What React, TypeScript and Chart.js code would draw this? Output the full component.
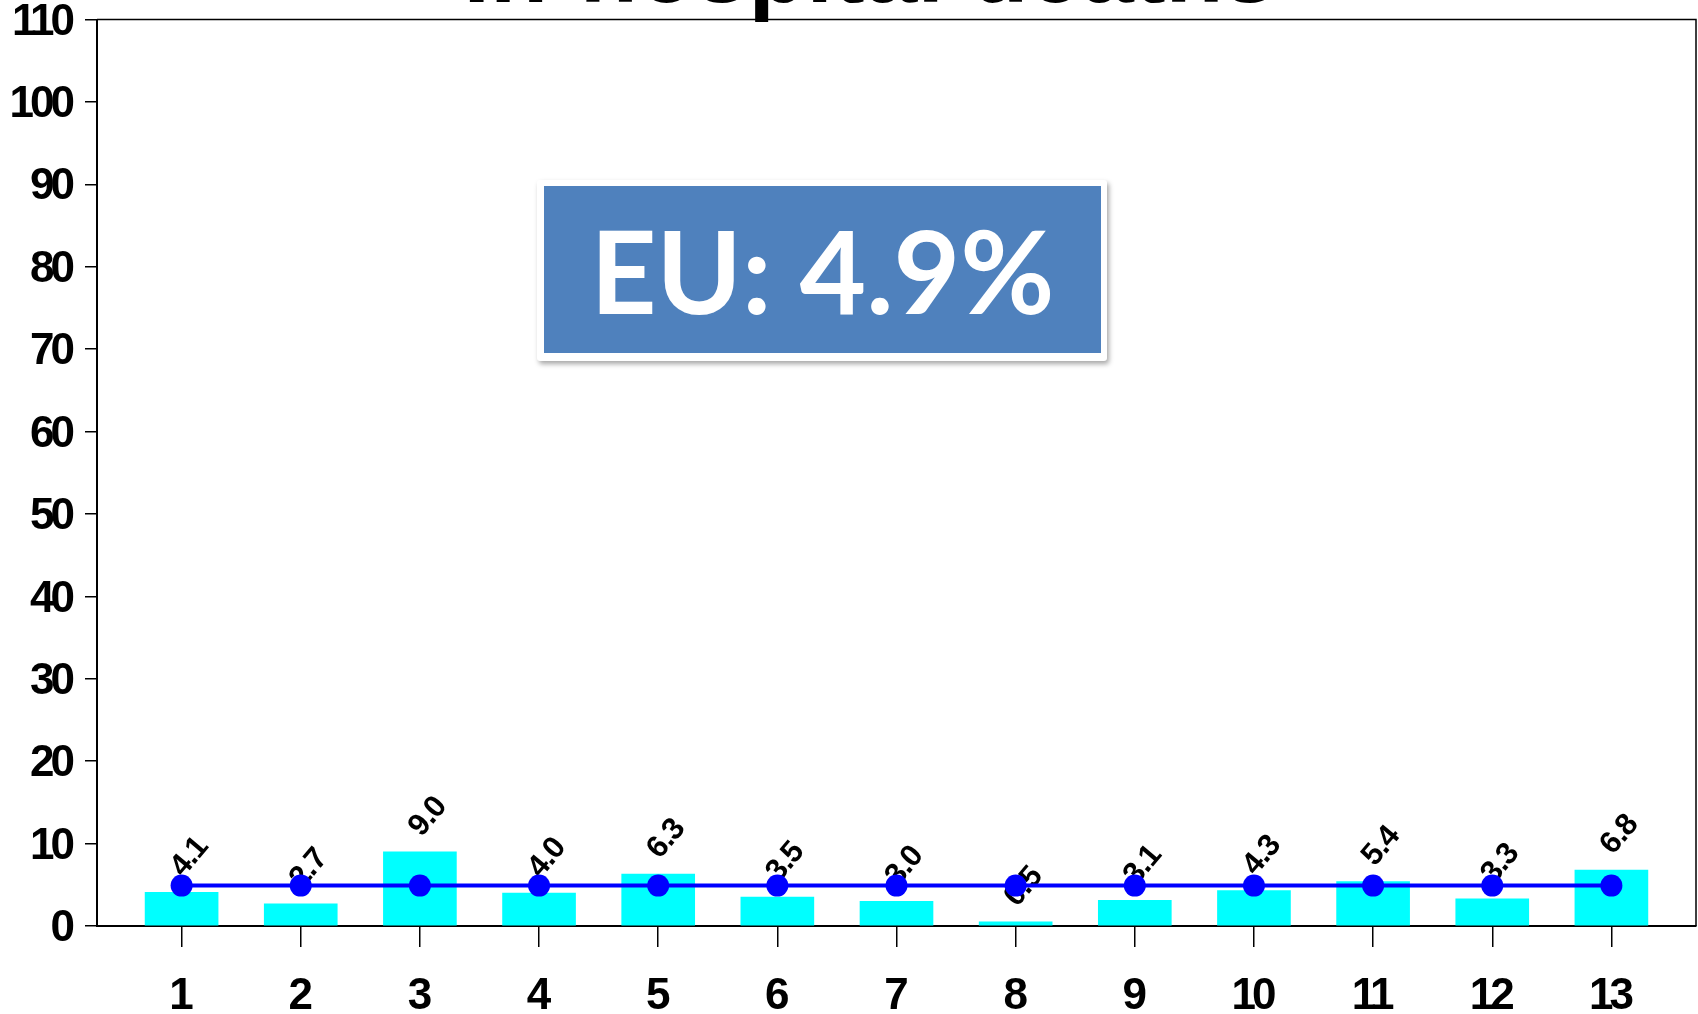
import React, { useEffect, useRef } from "react";
import { Chart, registerables } from "chart.js";

Chart.register(...registerables);

// Page heading (sits above the plot, mostly outside the canvas)
const TITLE = "In-hospital deaths";

// Hospital numbers on the x axis
const CATEGORIES = [1, 2, 3, 4, 5, 6, 7, 8, 9, 10, 11, 12, 13];

// In-hospital death rate per hospital (%)
const DEATH_RATES = [4.1, 2.7, 9.0, 4.0, 6.3, 3.5, 3.0, 0.5, 3.1, 4.3, 5.4, 3.3, 6.8];

// EU reference rate (%), repeated at each hospital
const EU_AVERAGE = [4.9, 4.9, 4.9, 4.9, 4.9, 4.9, 4.9, 4.9, 4.9, 4.9, 4.9, 4.9, 4.9];

const EU_LABEL = "EU: 4.9%";

// Y axis range
const Y_MIN = 0;
const Y_MAX = 110;
const Y_STEP = 10;

const WIDTH = 1698;
const HEIGHT = 1014;

const AXIS_FONT = "'Liberation Sans', Arial, Helvetica, sans-serif";

// Tight digit spacing for the axis numbers
const tightText = {
  id: "tightText",
  beforeUpdate(chart: any) {
    chart.ctx.letterSpacing = "-4px";
  },
  beforeDraw(chart: any) {
    chart.ctx.letterSpacing = "-4px";
  },
};

// Rotated value labels above each bar, drawn before the EU line so it sits on top
const barValueLabels = {
  id: "barValueLabels",
  afterDatasetDraw(chart: any, args: any) {
    const meta = args.meta;
    if (meta.type !== "bar") return;
    const ctx = chart.ctx;
    ctx.save();
    ctx.letterSpacing = "-1px";
    ctx.fillStyle = "#000";
    ctx.font = `bold 31px ${AXIS_FONT}`;
    ctx.textAlign = "center";
    ctx.textBaseline = "middle";
    meta.data.forEach((el: any, i: number) => {
      ctx.save();
      ctx.translate(el.x + 8, el.y - 35);
      ctx.rotate((-50 * Math.PI) / 180);
      ctx.fillText(DEATH_RATES[i].toFixed(1), 0, 0);
      ctx.restore();
    });
    ctx.restore();
  },
};

// Top and right edges of the plot box
const plotFrame = {
  id: "plotFrame",
  beforeDatasetsDraw(chart: any) {
    const { ctx, chartArea } = chart;
    ctx.save();
    ctx.strokeStyle = "#000";
    ctx.lineWidth = 1.5;
    ctx.beginPath();
    ctx.moveTo(chartArea.left, chartArea.top);
    ctx.lineTo(chartArea.right, chartArea.top);
    ctx.lineTo(chartArea.right, chartArea.bottom);
    ctx.stroke();
    ctx.restore();
  },
};

// Heading text, centred above the plot
const pageHeading = {
  id: "pageHeading",
  afterDraw(chart: any) {
    const ctx = chart.ctx;
    ctx.save();
    ctx.letterSpacing = "0px";
    ctx.fillStyle = "#000";
    ctx.font = `bold 95px ${AXIS_FONT}`;
    ctx.textAlign = "center";
    ctx.textBaseline = "alphabetic";
    ctx.fillText(TITLE, 870, 2);
    ctx.restore();
  },
};

export default function App() {
  const canvasRef = useRef<HTMLCanvasElement | null>(null);

  useEffect(() => {
    if (!canvasRef.current) return;
    const chart = new Chart(canvasRef.current, {
      type: "bar",
      data: {
        datasets: [
          {
            type: "line",
            label: "EU",
            data: CATEGORIES.map((c, i) => ({ x: c, y: EU_AVERAGE[i] })),
            borderColor: "#0000FF",
            backgroundColor: "#0000FF",
            borderWidth: 4,
            pointRadius: 11,
            pointBackgroundColor: "#0000FF",
            pointBorderWidth: 0,
            tension: 0,
            order: 0,
          } as any,
          {
            type: "bar",
            label: "Hospitals",
            data: CATEGORIES.map((c, i) => ({ x: c, y: DEATH_RATES[i] })),
            backgroundColor: "#00FFFF",
            borderWidth: 0,
            barThickness: 73,
            order: 1,
          } as any,
        ],
      },
      options: {
        animation: false,
        responsive: false,
        devicePixelRatio: 1,
        layout: { autoPadding: false, padding: { top: 19.5, right: 2, left: 0, bottom: 0 } },
        plugins: {
          legend: { display: false },
          tooltip: { enabled: false },
          title: { display: false },
        },
        scales: {
          x: {
            type: "linear",
            min: 0.29,
            max: 13.71,
            offset: false,
            afterBuildTicks: (axis: any) => {
              axis.ticks = CATEGORIES.map((v) => ({ value: v }));
            },
            afterFit: (axis: any) => {
              axis.height = 88;
              axis.paddingLeft = 0;
              axis.paddingRight = 0;
            },
            grid: {
              display: true,
              offset: false,
              drawOnChartArea: false,
              drawTicks: true,
              tickLength: 21,
              color: "#000",
              lineWidth: 1.5,
            },
            border: { display: true, color: "#000", width: 2 },
            ticks: {
              color: "#000",
              font: { family: AXIS_FONT, size: 44, weight: "bold" },
              padding: 23,
              labelOffset: -2,
              maxRotation: 0,
              autoSkip: false,
              callback: (v: any) => String(v),
            },
          },
          y: {
            type: "linear",
            min: Y_MIN,
            max: Y_MAX,
            afterFit: (axis: any) => {
              axis.width = 97;
              axis.paddingTop = 0;
              axis.paddingBottom = 0;
            },
            grid: {
              display: true,
              drawOnChartArea: false,
              drawTicks: true,
              tickLength: 12,
              color: "#000",
              lineWidth: 1.5,
            },
            border: { display: true, color: "#000", width: 2 },
            ticks: {
              stepSize: Y_STEP,
              color: "#000",
              font: { family: AXIS_FONT, size: 44, weight: "bold" },
              padding: 14,
              labelOffset: 3,
            },
          },
        },
      } as any,
      plugins: [tightText, barValueLabels, plotFrame, pageHeading],
    });
    return () => chart.destroy();
  }, []);

  return (
    <div
      style={{
        position: "fixed",
        left: 0,
        top: 0,
        width: WIDTH,
        height: HEIGHT,
        background: "#fff",
        overflow: "hidden",
      }}
    >
      <canvas
        ref={canvasRef}
        width={WIDTH}
        height={HEIGHT}
        style={{ display: "block", width: WIDTH, height: HEIGHT }}
      />
      <div
        style={{
          position: "absolute",
          left: 537,
          top: 180,
          width: 570,
          height: 181,
          background: "#fff",
          borderRadius: 3,
          boxShadow: "2px 3px 5px rgba(0,0,0,0.35)",
        }}
      >
        <div
          style={{
            position: "absolute",
            left: 7,
            top: 6,
            width: 557,
            height: 167,
            background: "#4F81BD",
            display: "flex",
            alignItems: "center",
            justifyContent: "center",
            color: "#fff",
            fontFamily: "Lato, 'Open Sans', sans-serif",
            fontWeight: 700,
            fontSize: 115,
            lineHeight: 1,
            whiteSpace: "nowrap",
          }}
        >
          {EU_LABEL}
        </div>
      </div>
    </div>
  );
}
